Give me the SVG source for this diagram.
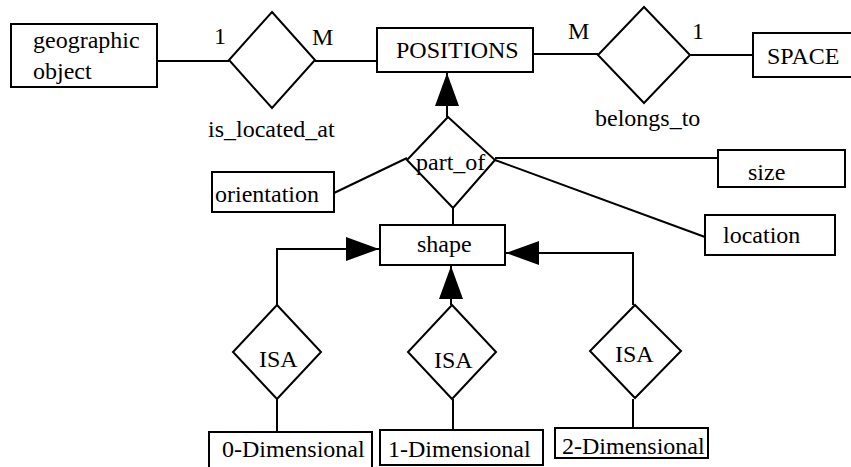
<svg xmlns="http://www.w3.org/2000/svg" width="851" height="467" viewBox="0 0 851 467">
<defs>
<style>
.box{fill:#fff;stroke:#000;stroke-width:2}
.dia{fill:#fff;stroke:#000;stroke-width:2}
.ln{fill:none;stroke:#000;stroke-width:2}
text{font-family:"Liberation Serif","Times New Roman",serif;font-size:24px;fill:#000}
.card{font-size:24px}
</style>
<marker id="arr" markerUnits="userSpaceOnUse" markerWidth="34" markerHeight="26" refX="33" refY="13" orient="auto">
<path d="M0,1 L33,13 L0,25 z" fill="#000"/>
</marker>
</defs>
<rect width="851" height="467" fill="#fff"/>
<g id="connectors">
<line class="ln" x1="157" y1="61" x2="229" y2="61"/>
<line class="ln" x1="315" y1="61" x2="377" y2="61"/>
<line class="ln" x1="533" y1="54" x2="598" y2="54"/>
<line class="ln" x1="690" y1="55" x2="753" y2="55"/>
<line class="ln" x1="447" y1="117" x2="447" y2="73" marker-end="url(#arr)"/>
<line class="ln" x1="334" y1="193" x2="407" y2="158"/>
<line class="ln" x1="495" y1="158" x2="718" y2="158"/>
<line class="ln" x1="495" y1="160" x2="705" y2="237"/>
<line class="ln" x1="453" y1="208" x2="453" y2="225"/>
<polyline class="ln" points="277,305 277,249 379,249" marker-end="url(#arr)"/>
<line class="ln" x1="451" y1="305" x2="451" y2="266" marker-end="url(#arr)"/>
<polyline class="ln" points="633,305 633,253 506,253" marker-end="url(#arr)"/>
<line class="ln" x1="277" y1="399" x2="277" y2="432"/>
<line class="ln" x1="453" y1="399" x2="453" y2="430"/>
<line class="ln" x1="633" y1="399" x2="633" y2="428"/>
<text class="card" x="214" y="44">1</text>
<text class="card" x="312" y="45">M</text>
<text class="card" x="568" y="39">M</text>
<text class="card" x="692" y="39">1</text>
</g>
<g id="geographic_object">
<rect class="box" x="11" y="24" width="146" height="63"/>
<text x="33" y="48">geographic</text>
<text x="33" y="79">object</text>
</g>
<g id="is_located_at">
<polygon class="dia" points="272,12 315,60 272,108 229,60"/>
<text x="208" y="137">is_located_at</text>
</g>
<g id="positions">
<rect class="box" x="377" y="28" width="156" height="44"/>
<text x="396" y="58">POSITIONS</text>
</g>
<g id="belongs_to">
<polygon class="dia" points="644,7 690,55 644,103 598,55"/>
<text x="595" y="126">belongs_to</text>
</g>
<g id="space">
<rect class="box" x="753" y="33" width="110" height="44"/>
<text x="767" y="64">SPACE</text>
</g>
<g id="part_of">
<polygon class="dia" points="448,117 495,160 453,208 407,160"/>
<text x="416" y="170">part_of</text>
</g>
<g id="orientation">
<rect class="box" x="212" y="172" width="122" height="40"/>
<text x="215" y="202">orientation</text>
</g>
<g id="size">
<rect class="box" x="718" y="150" width="127" height="37"/>
<text x="748" y="180">size</text>
</g>
<g id="location">
<rect class="box" x="705" y="215" width="130" height="40"/>
<text x="723" y="243">location</text>
</g>
<g id="shape">
<rect class="box" x="380" y="225" width="125" height="40"/>
<text x="417" y="252">shape</text>
</g>
<g id="isa_0">
<polygon class="dia" points="277,305 321,352 277,399 233,352"/>
<text x="259" y="367">ISA</text>
</g>
<g id="isa_1">
<polygon class="dia" points="452,305 496,352 452,399 408,352"/>
<text x="434" y="368">ISA</text>
</g>
<g id="isa_2">
<polygon class="dia" points="635,305 681,351 635,398 590,351"/>
<text x="615" y="362">ISA</text>
</g>
<g id="dim_0">
<rect class="box" x="209" y="432" width="163" height="40"/>
<text x="222" y="457">0-Dimensional</text>
</g>
<g id="dim_1">
<rect class="box" x="380" y="430" width="163" height="35"/>
<text x="388" y="457">1-Dimensional</text>
</g>
<g id="dim_2">
<rect class="box" x="555" y="428" width="153" height="30"/>
<text x="562" y="454">2-Dimensional</text>
</g>
</svg>
